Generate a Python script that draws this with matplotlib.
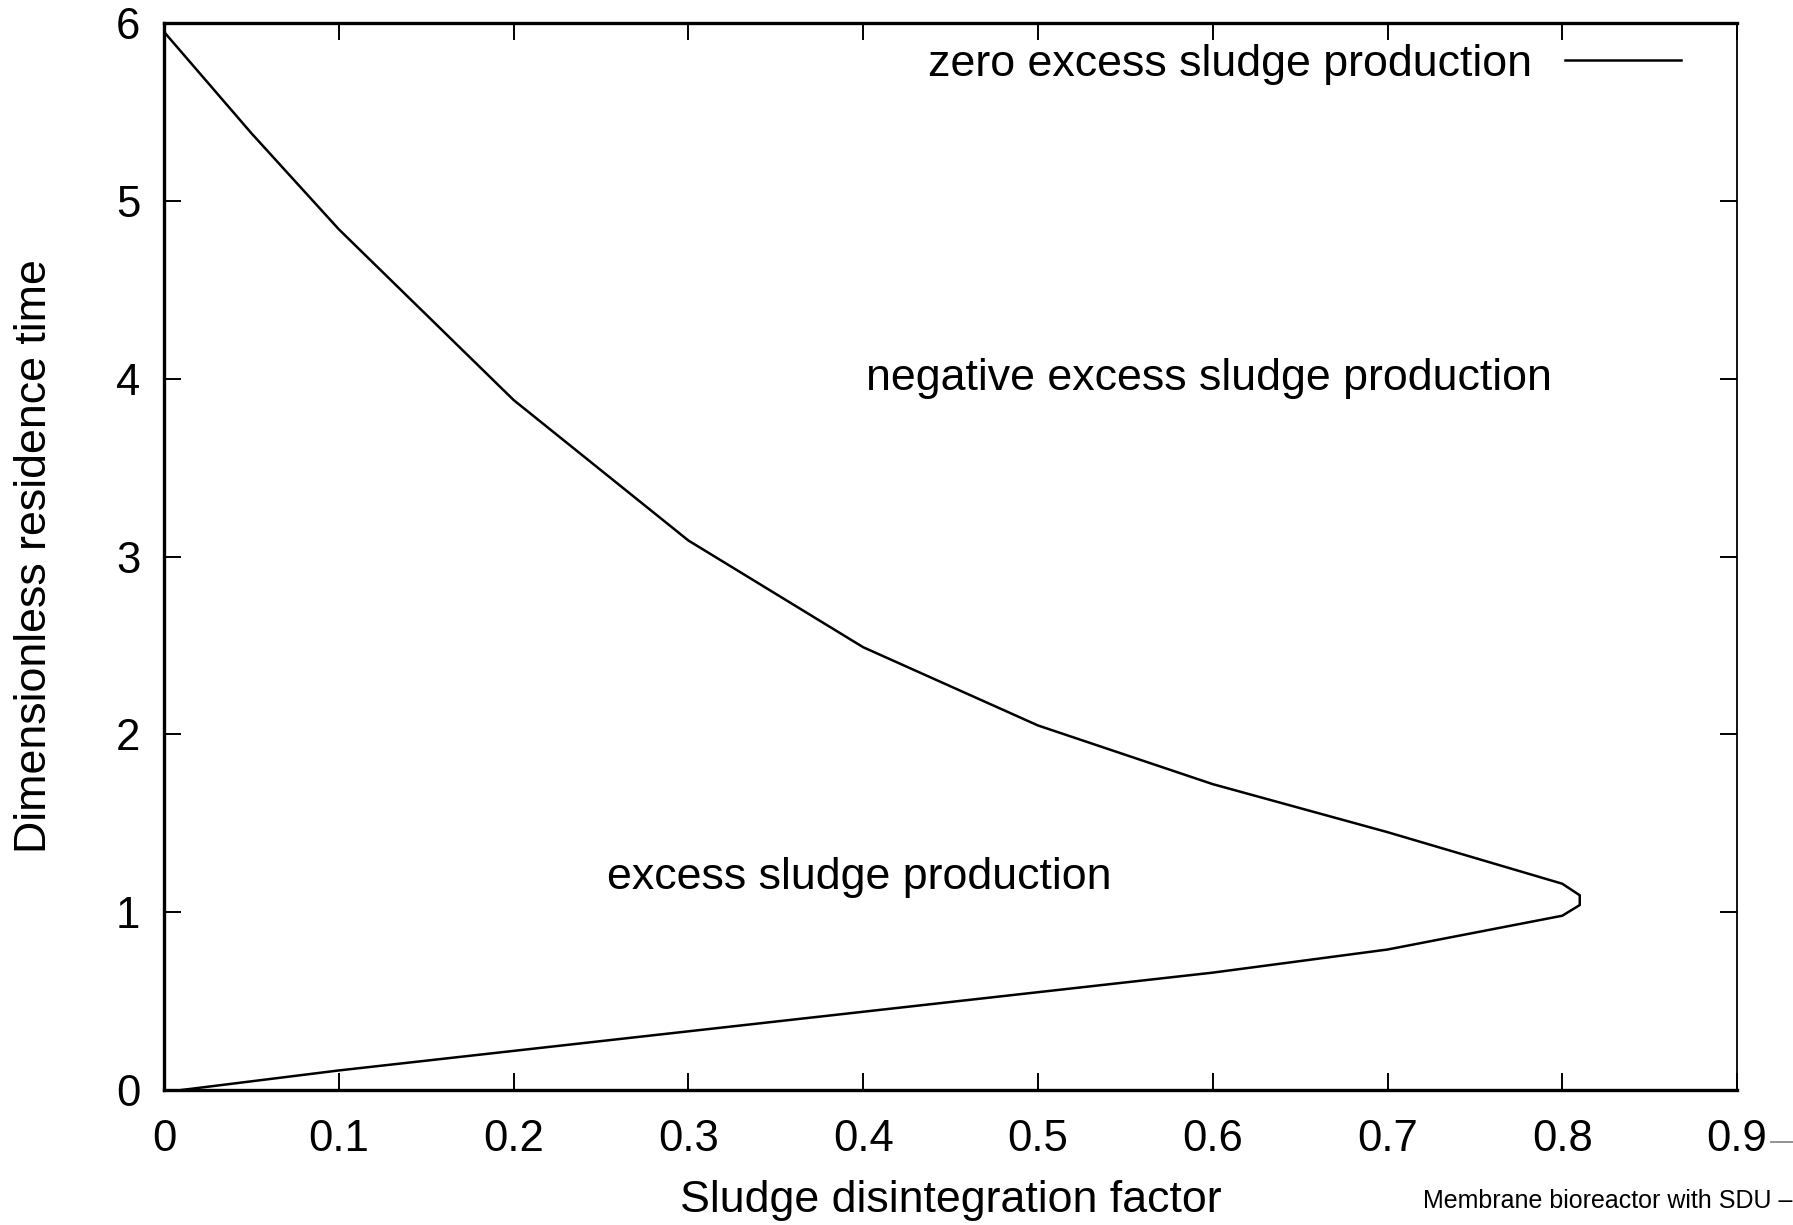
import matplotlib
matplotlib.use('Agg')
import matplotlib.pyplot as plt
from matplotlib.lines import Line2D

plt.rcParams['font.family'] = ['Liberation Sans', 'DejaVu Sans']

# zero excess sludge production boundary (upper branch, tip, lower branch)
factor = [0.0, 0.05, 0.1, 0.2, 0.3, 0.4, 0.5, 0.6, 0.7, 0.8, 0.81, 0.81,
          0.8, 0.7, 0.6, 0.5, 0.4, 0.3, 0.2, 0.1, 0.01]
residence = [5.95, 5.38, 4.84, 3.88, 3.09, 2.49, 2.05, 1.72, 1.45, 1.16, 1.095, 1.04,
             0.98, 0.79, 0.66, 0.55, 0.44, 0.33, 0.22, 0.11, 0.0]

xticks = [0, 0.1, 0.2, 0.3, 0.4, 0.5, 0.6, 0.7, 0.8, 0.9]
xlabels = ['0', '0.1', '0.2', '0.3', '0.4', '0.5', '0.6', '0.7', '0.8', '0.9']
yticks = [0, 1, 2, 3, 4, 5, 6]

fs = 31.5
fs_txt = 32.2

fig = plt.figure(figsize=(17.93, 12.25), dpi=100)
ax = fig.add_axes([0.0915, 0.1102, 0.8773, 0.8710])

ax.plot(factor, residence, color='black', lw=1.8, label='zero excess sludge production')

ax.set_xlim(0, 0.9)
ax.set_ylim(0, 6)
ax.set_xticks(xticks)
ax.set_xticklabels(xlabels)
ax.set_yticks(yticks)
ax.tick_params(axis='both', direction='in', length=12, width=1.4, labelsize=fs,
               top=True, right=True)
ax.tick_params(axis='x', pad=21)
ax.tick_params(axis='y', pad=17)
for side in ['left', 'bottom', 'top']:
    ax.spines[side].set_linewidth(2.4)
ax.spines['right'].set_linewidth(1.3)

ax.set_xlabel('Sludge disintegration factor', fontsize=fs_txt, va='center')
ax.set_ylabel('Dimensionless residence time', fontsize=fs_txt, va='center')
ax.xaxis.set_label_coords(0.5, -0.104)
ax.yaxis.set_label_coords(-0.0826, 0.5)

ax.text(0.598, 4.0, 'negative excess sludge production', fontsize=fs_txt,
        ha='center', va='center')
ax.text(0.398, 1.196, 'excess sludge production', fontsize=fs_txt,
        ha='center', va='center')

ax.legend(loc='center right', bbox_to_anchor=(0.9643, 0.9614), frameon=False,
          markerfirst=False, fontsize=fs_txt, handlelength=2.6, handletextpad=0.72,
          borderaxespad=0, borderpad=0)

fig.text(0.9995, 0.0196, 'Membrane bioreactor with SDU \u2013', fontsize=18,
         ha='right', va='center')
fig.add_artist(Line2D([0.988, 1.0], [0.0678, 0.0678], color='gray', lw=1.2,
                      transform=fig.transFigure))

fig.savefig('out.png', dpi=100)
